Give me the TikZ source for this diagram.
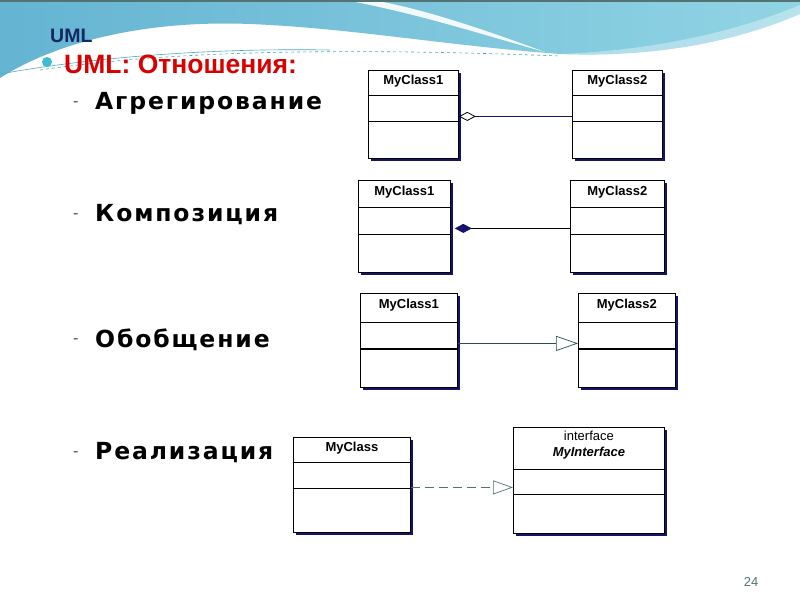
\documentclass[tikz,border=0pt]{standalone}
\usepackage{fontspec}
\setmainfont{Liberation Sans}
\newfontfamily\verd[LetterSpace=8]{DejaVu Sans}
\usetikzlibrary{arrows.meta,shadows,calc}
\definecolor{navy}{RGB}{20,20,110}
\definecolor{umlblue}{RGB}{20,40,100}
\definecolor{teal1}{RGB}{40,80,80}
\definecolor{skyA}{RGB}{100,180,210}
\definecolor{skyB}{RGB}{145,212,228}
\definecolor{bullet}{RGB}{60,190,210}
\begin{document}
\begin{tikzpicture}[x=1pt,y=-1pt,
  cls/.style={draw=black,fill=white,line width=0.8pt,anchor=north west,inner sep=0pt,
    drop shadow={shadow xshift=2.5pt,shadow yshift=-2.5pt,fill=navy,opacity=1}},
  ctitle/.style={font=\fontsize{13}{14}\selectfont\bfseries,anchor=north,inner sep=0pt},
  item/.style={font=\verd\fontsize{23.5}{26}\selectfont\bfseries,anchor=west,inner sep=0pt},
  dashitem/.style={font=\fontsize{16}{18}\selectfont,anchor=west,inner sep=0pt,text=black!70},
  comp/.style={line width=0.7pt}]
\useasboundingbox (0,0) rectangle (800,600);
\fill[white] (0,0) rectangle (800,600);
% header waves
\shade[left color=skyA,right color=skyB] (0,0) -- (800,0) -- (800,14)
  .. controls (740,40) and (660,58) .. (560,54)
  .. controls (450,46) and (350,28) .. (250,24)
  .. controls (150,20) and (60,40) .. (0,78) -- cycle;
\fill[white,opacity=0.9] (345,0) .. controls (420,14) and (480,34) .. (545,52)
  .. controls (480,28) and (420,8) .. (372,0) -- cycle;
\fill[white,opacity=0.35] (560,54) .. controls (660,50) and (740,30) .. (800,5) -- (800,20) .. controls (740,45) and (660,58) .. (560,54) -- cycle;
\draw[skyA!80!teal,line width=0.6pt] (0,74) .. controls (100,56) and (220,48) .. (330,50);
\draw[skyA!70!teal,line width=0.6pt,dashed] (40,70) .. controls (150,54) and (300,46) .. (560,56);
\fill[teal1!80] (0,0) rectangle (800,1.5);
% titles
\node[font=\fontsize{19.5}{22}\selectfont\bfseries,text=umlblue,anchor=west,inner sep=0pt] (uml) at (50,36) {UML};
\fill[bullet] (47,62) circle (5);
\node[font=\fontsize{26.5}{29}\selectfont\bfseries,text=red!85!black,anchor=west,inner sep=0pt] (ttl) at (64,64) {UML: Отношения:};
\node[dashitem] (d1) at (73,104) {-};
\node[item] (i1) at (95,103) {Агрегирование};
\node[dashitem] (d2) at (73,216) {-};
\node[item] (i2) at (95,215) {Композиция};
\node[dashitem] (d3) at (73,341) {-};
\node[item] (i3) at (95,340) {Обобщение};
\node[dashitem] (d4) at (73,454) {-};
\node[item] (i4) at (95,453) {Реализация};
% diagram 1: aggregation
\node[cls,minimum width=90,minimum height=88] (a1) at (368,70) {};
\draw[comp] (368,95) -- (458,95) (368,121) -- (458,121);
\node[ctitle] (a1t) at ($(a1.north)+(0,5)$) {MyClass1};
\node[cls,minimum width=90,minimum height=88] (a2) at (572,70) {};
\draw[comp] (572,95) -- (662,95) (572,121) -- (662,121);
\node[ctitle] (a2t) at ($(a2.north)+(0,5)$) {MyClass2};
\coordinate (a1e) at ($(a1.east)+(0,2)$);
\draw[navy,line width=1.6pt,{Diamond[open,length=17pt,width=9pt,line width=0.8pt,color=black]}-] (a1e) -- (a1e -| a2.west);
% diagram 2: composition
\node[cls,minimum width=92,minimum height=92] (b1) at (358,180) {};
\draw[comp] (358,207) -- (450,207) (358,234) -- (450,234);
\node[ctitle] (b1t) at ($(b1.north)+(0,6)$) {MyClass1};
\node[cls,minimum width=94,minimum height=92] (b2) at (570,180) {};
\draw[comp] (570,207) -- (664,207) (570,234) -- (664,234);
\node[ctitle] (b2t) at ($(b2.north)+(0,6)$) {MyClass2};
\coordinate (b1e) at ($(b1.east)+(4,2)$);
\draw[line width=0.8pt,{Diamond[length=17pt,width=9pt,color=navy,fill=navy]}-] (b1e) -- (b1e -| b2.west);
% diagram 3: generalization
\node[cls,minimum width=97,minimum height=94] (c1) at (360,293) {};
\draw[comp] (360,322) -- (457,322);
\draw[line width=1.3pt] (360,349) -- (457,349);
\node[ctitle] (c1t) at ($(c1.north)+(0,6)$) {MyClass1};
\node[cls,minimum width=97,minimum height=94] (c2) at (578,293) {};
\draw[comp] (578,322) -- (675,322);
\draw[line width=1.3pt] (578,349) -- (675,349);
\node[ctitle] (c2t) at ($(c2.north)+(0,6)$) {MyClass2};
\coordinate (c1e) at ($(c1.east)+(0,3)$);
\draw[teal1,line width=1.3pt,-{Triangle[open,length=22pt,width=15pt,line width=0.7pt]}] (c1e) -- (c1e -| c2.west);
% diagram 4: realization
\node[cls,minimum width=117,minimum height=95] (m1) at (293,437) {};
\draw[comp] (293,462) -- (410,462) (293,488) -- (410,488);
\node[ctitle] (m1t) at ($(m1.north)+(0,5)$) {MyClass};
\node[cls,minimum width=151,minimum height=106] (m2) at (513,427) {};
\draw[comp] (513,469) -- (664,469) (513,494) -- (664,494);
\node[font=\fontsize{13}{14}\selectfont,anchor=north,inner sep=0pt] (m2s) at ($(m2.north)+(0,4)$) {interface};
\node[font=\fontsize{13}{14}\selectfont\bfseries\itshape,anchor=north,inner sep=0pt] (m2t) at ($(m2.north)+(0,20)$) {MyInterface};
\coordinate (m1e) at ($(m1.east)+(0,2.5)$);
\draw[teal1!80,line width=0.7pt,dash pattern=on 9pt off 5pt,-{Triangle[open,length=20pt,width=14pt,line width=0.7pt]}] (m1e) -- (m1e -| m2.west);
% page number
\node[font=\fontsize{13}{15}\selectfont,text=teal1!80,inner sep=0pt] (pg) at (751,582) {24};
\end{tikzpicture}
\end{document}
